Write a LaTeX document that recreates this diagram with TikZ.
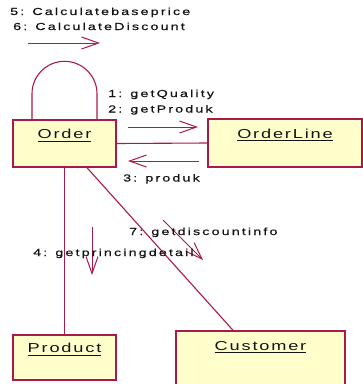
\documentclass[tikz,border=0pt]{standalone}
\usepackage{fontspec}
\setmainfont{Liberation Sans}
\newfontfamily\msgfont[FakeStretch=1.4,LetterSpace=21,FakeBold=0.6]{Liberation Sans}
\newfontfamily\clsfont[FakeStretch=1.4,LetterSpace=14]{Liberation Sans}
\usetikzlibrary{arrows.meta,calc}
\definecolor{linec}{RGB}{170,25,75}
\definecolor{boxfill}{RGB}{255,255,204}
\definecolor{txtc}{RGB}{20,20,20}
% class name with a heavier underline
\newcommand\clsname[1]{\leavevmode\vtop{\hbox{#1}\kern2.2pt\hrule height 1.1pt}}
\tikzset{
  classbox/.style={draw=linec, fill=boxfill, line width=1.4pt, inner sep=0pt,
    text=txtc, font=\clsfont\fontsize{13}{15}\selectfont,
    text height=10pt, text depth=20pt},
  link/.style={draw=linec, line width=1.1pt},
  msgarrow/.style={draw=linec, line width=1pt,
    -{Straight Barb[length=17pt,width=12pt]}},
  msglabel/.style={anchor=base west, inner sep=0pt, text=txtc,
    font=\msgfont\fontsize{10.2}{12}\selectfont}
}
\begin{document}
\begin{tikzpicture}[x=1pt,y=-1pt]
\useasboundingbox (0,0) rectangle (363,384);

% objects
\node[classbox, minimum width=103pt, minimum height=47pt] (order) at (64.5,143.5) {\clsname{Order}};
\node[classbox, minimum width=154pt, minimum height=48pt] (orderline) at (285,143) {\clsname{OrderLine}};
\node[classbox, minimum width=103pt, minimum height=45pt] (product) at (64.5,357.5) {\clsname{Product}};
\node[classbox, minimum width=169pt, minimum height=55pt, text depth=27pt] (customer) at (260.5,358.5) {\clsname{Customer}};

% links
\draw[link] ($(order.north)+(-32.5,0)$) -- ++(0,-25.5)
  arc[start angle=180, end angle=360, radius=32.5] -- ($(order.north)+(32.5,0)$);
\draw[link] (order.east) -- (orderline.west);
\draw[link] (order.south) -- (product.north);
\draw[link] ($(order.south)+(22.5,0)$) -- ($(customer.north)+(-27.5,0)$);

% messages
\coordinate (m56a) at (28,43);   \coordinate (m56b) at (100,43);
\coordinate (m12a) at (128,127); \coordinate (m12b) at (198,127);
\coordinate (m3a)  at (199,161); \coordinate (m3b)  at (128,161);
\coordinate (m4a)  at (92,227);  \coordinate (m4b)  at (92,275);
\coordinate (m7a)  at (163,220); \coordinate (m7b)  at (203,260);
\draw[msgarrow] (m56a) -- (m56b);
\draw[msgarrow] (m12a) -- (m12b);
\draw[msgarrow] (m3a) -- (m3b);
\draw[msgarrow] (m4a) -- (m4b);
\draw[msgarrow] (m7a) -- (m7b);

\node[msglabel] (l5) at (10,15) {5: Calculatebaseprice};
\node[msglabel] (l6) at (13,30) {6: CalculateDiscount};
\node[msglabel] (l1) at (108,97) {1: getQuality};
\node[msglabel] (l2) at (108,112.5) {2: getProduk};
\node[msglabel] (l3) at (123,181.5) {3: produk};
\node[msglabel] (l7) at (129,235) {7: getdiscountinfo};
\node[msglabel] (l4) at (33,256) {4: getprincingdetail};
\end{tikzpicture}
\end{document}
